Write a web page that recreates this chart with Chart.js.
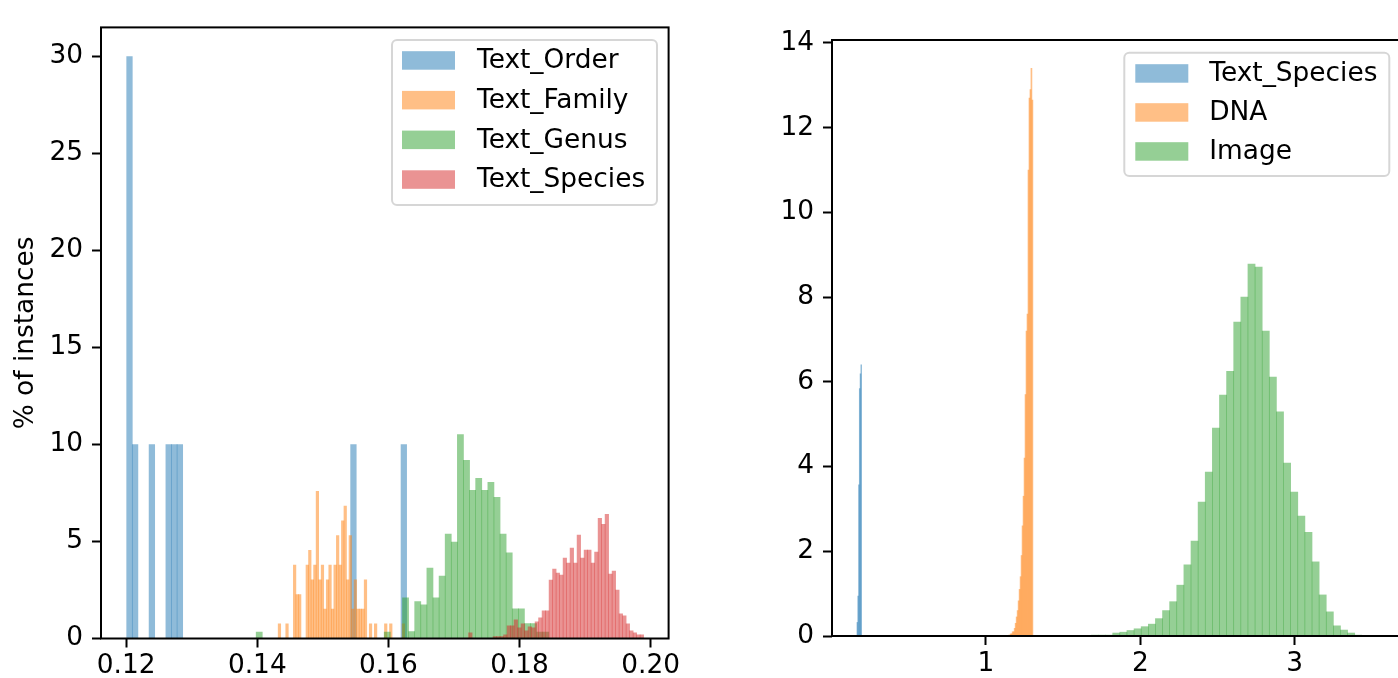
<!DOCTYPE html>
<html>
<head>
<meta charset="utf-8">
<script src="https://cdn.jsdelivr.net/npm/chart.js@4.4.1/dist/chart.umd.min.js"></script>
<style>
  html, body { margin: 0; padding: 0; background: #fff; overflow: hidden; }
  #left { position: absolute; left: 0; top: 0; }
  #right { position: absolute; left: 700px; top: 0; }
</style>
</head>
<body>
<canvas id="left" width="700" height="678"></canvas>
<canvas id="right" width="699" height="678"></canvas>
<script>
// ---- left panel: distances of the text embeddings (50 bins each) ----
var leftLabels = ['Text_Order', 'Text_Family', 'Text_Genus', 'Text_Species']

var orderStart = 0.12008, orderWidth = 0.000854
var orderValues = [30, 10, 0, 0, 10, 0, 0, 10, 10, 10,
  0, 0, 0, 0, 0, 0, 0, 0, 0, 0,
  0, 0, 0, 0, 0, 0, 0, 0, 0, 0,
  0, 0, 0, 0, 0, 0, 0, 0, 0, 0,
  10, 0, 0, 0, 0, 0, 0, 0, 0, 10]

var familyStart = 0.143186, familyWidth = 0.000386
var familyValues = [0.76, 0, 0, 0.76, 0, 0, 3.79, 2.27, 2.27, 0,
  0, 3.79, 4.55, 3.03, 3.79, 7.58, 3.03, 3.79, 1.52, 3.03,
  3.79, 1.52, 3.79, 5.3, 3.79, 6.06, 6.82, 3.03, 5.3, 1.52,
  3.03, 1.52, 1.52, 1.52, 3.03, 0, 0.76, 0, 0.76, 0,
  0, 0, 0.76, 0, 0.76, 0, 0, 0, 0, 0.76]

var genusStart = 0.13983, genusWidth = 0.00093
var genusValues = [0.33, 0, 0, 0, 0, 0, 0, 0, 0, 0,
  0, 0, 0, 0, 0, 0, 0, 0, 0, 0,
  0, 0.33, 0, 0, 2.09, 0.36, 1.9, 1.73, 3.63, 2.09,
  3.22, 5.38, 4.97, 10.51, 9.18, 7.64, 8.25, 7.64, 8.05, 7.28,
  5.38, 4.41, 1.53, 1.53, 0.77, 0.77, 0.33, 0.33, 0, 0]

var speciesStart = 0.17223, speciesWidth = 0.000534
var speciesValues = [0.29, 0, 0, 0, 0, 0, 0, 0.1, 0.1, 0.1,
  0.19, 0.65, 0.65, 0.96, 0.55, 0.75, 0.4, 0.6, 0.55, 0.86,
  1.06, 1.42, 1.42, 3.01, 3.58, 3.37, 3.27, 4.14, 3.89, 4.66,
  3.89, 5.33, 4.14, 4.56, 4.56, 3.89, 4.45, 6.2, 5.89, 6.4,
  3.32, 3.48, 2.5, 1.27, 1.17, 0.75, 0.4, 0.29, 0.19, 0.19]

var leftXTicks = [0.12, 0.14, 0.16, 0.18, 0.20]
var leftXTickLabels = ['0.12', '0.14', '0.16', '0.18', '0.20']
var leftYTicks = [0, 5, 10, 15, 20, 25, 30]

// ---- right panel: text vs DNA vs image ----
var rightLabels = ['Text_Species', 'DNA', 'Image']

var textRStart = 0.1645, textRWidth = 0.00507
var textRValues = [0.32, 0.94, 3.57, 5.84, 6.19, 6.4]

var dnaStart = 1.1445, dnaWidth = 0.00639
var dnaValues = [0.02, 0.02, 0.05, 0.05, 0.1, 0.1, 0.18, 0.3, 0.45, 0.6,
  0.83, 1.1, 1.4, 1.9, 2.6, 3.3, 4.2, 5.7, 7.2, 7.6,
  11.0, 12.7, 12.9, 13.4, 12.65]

var imageStart = 1.6828, imageWidth = 0.0461
var imageValues = [0.02, 0.02, 0.02, 0.07, 0.09, 0.13, 0.17, 0.22, 0.28, 0.41,
  0.6, 0.81, 1.2, 1.68, 2.24, 3.16, 3.87, 4.91, 5.69, 6.25,
  7.41, 8.0, 8.78, 8.71, 7.2, 6.11, 5.29, 4.08, 3.4, 2.83,
  2.45, 1.75, 0.97, 0.57, 0.24, 0.14, 0.07, 0.02]

var rightXTicks = [1, 2, 3]
var rightXTickLabels = ['1', '2', '3']
var rightYTicks = [0, 2, 4, 6, 8, 10, 12, 14]

// matplotlib tab10 at alpha 0.5
var colors = ['rgba(31,119,180,0.5)', 'rgba(255,127,14,0.5)', 'rgba(44,160,44,0.5)', 'rgba(214,39,40,0.5)']

var FONT = 26.4
Chart.defaults.font.family = '"DejaVu Sans"'
Chart.defaults.font.size = FONT
Chart.defaults.color = '#000'

function bins(start, width, values) {
  return values.map(function(v, i) { return {x: start + (i + 0.5) * width, y: v} })
}

function histSet(label, i, start, width, values) {
  return {
    label: label,
    data: bins(start, width, values),
    backgroundColor: colors[i],
    xAxisID: 'h' + i,
    order: 10 - i,   // first series at the bottom, like matplotlib
    barPercentage: 1,
    categoryPercentage: 1,
    grouped: false
  }
}

function hiddenX(min, max) {
  return { type: 'linear', display: false, min: min, max: max, offset: false }
}

function visibleX(min, max, ticks, labels, height) {
  return {
    type: 'linear', min: min, max: max, offset: false,
    afterBuildTicks: function(s) { s.ticks = ticks.map(function(v) { return {value: v} }) },
    afterFit: function(s) { s.height = height },
    ticks: { autoSkip: false, maxRotation: 0, padding: 3, callback: function(v, i) { return labels[i] } },
    grid: { display: true, offset: false, drawOnChartArea: false, drawTicks: true, tickLength: 9, tickColor: '#000', tickWidth: 2 },
    border: { display: false }
  }
}

function visibleY(max, ticks, width, title) {
  return {
    type: 'linear', min: 0, max: max,
    afterBuildTicks: function(s) { s.ticks = ticks.map(function(v) { return {value: v} }) },
    afterFit: function(s) { s.width = width },
    ticks: { autoSkip: false, padding: 9, callback: function(v) { return String(v) } },
    grid: { display: true, drawOnChartArea: false, drawTicks: true, tickLength: 9, tickColor: '#000', tickWidth: 2 },
    border: { display: false },
    title: title ? { display: true, text: title, padding: {top: 10, bottom: 0} } : { display: false }
  }
}

// axes frame on top of the bars
var frame = {
  id: 'frame',
  afterDatasetsDraw: function(chart) {
    var a = chart.chartArea, ctx = chart.ctx
    ctx.save()
    ctx.strokeStyle = '#000'
    ctx.lineWidth = 2
    ctx.strokeRect(a.left, a.top, a.right - a.left, a.bottom - a.top)
    ctx.restore()
  }
}

// matplotlib style legend box in the upper right corner
var boxLegend = {
  id: 'boxLegend',
  afterDraw: function(chart, args, o) {
    var a = chart.chartArea, ctx = chart.ctx
    var x = a.right - o.right - o.width, y = a.top + o.top, r = 5
    ctx.save()
    ctx.globalAlpha = 0.8
    ctx.beginPath()
    ctx.moveTo(x + r, y)
    ctx.arcTo(x + o.width, y, x + o.width, y + o.height, r)
    ctx.arcTo(x + o.width, y + o.height, x, y + o.height, r)
    ctx.arcTo(x, y + o.height, x, y, r)
    ctx.arcTo(x, y, x + o.width, y, r)
    ctx.closePath()
    ctx.fillStyle = '#fff'
    ctx.fill()
    ctx.strokeStyle = '#cccccc'
    ctx.lineWidth = 2
    ctx.stroke()
    ctx.globalAlpha = 1
    ctx.font = FONT + 'px "DejaVu Sans"'
    ctx.textBaseline = 'middle'
    chart.data.datasets.forEach(function(ds, i) {
      var cy = y + o.first + i * o.row
      ctx.fillStyle = ds.backgroundColor
      ctx.fillRect(x + o.patchLeft, cy - 9.2, 53, 18.5)
      ctx.fillStyle = '#000'
      ctx.fillText(ds.label, x + o.textLeft, cy + 1)
    })
    ctx.restore()
  }
}

var leftMin = 0.11616, leftMax = 0.20274
new Chart(document.getElementById('left'), {
  type: 'bar',
  data: {
    datasets: [
      histSet(leftLabels[0], 0, orderStart, orderWidth, orderValues),
      histSet(leftLabels[1], 1, familyStart, familyWidth, familyValues),
      histSet(leftLabels[2], 2, genusStart, genusWidth, genusValues),
      histSet(leftLabels[3], 3, speciesStart, speciesWidth, speciesValues)
    ]
  },
  options: {
    responsive: false,
    animation: false,
    layout: { padding: { left: 0, top: 27.4, right: 31.4, bottom: 0 } },
    scales: {
      x: visibleX(leftMin, leftMax, leftXTicks, leftXTickLabels, 39.5),
      h0: hiddenX(leftMin, leftMax),
      h1: hiddenX(leftMin, leftMax),
      h2: hiddenX(leftMin, leftMax),
      h3: hiddenX(leftMin, leftMax),
      y: visibleY(31.5, leftYTicks, 101, '% of instances')
    },
    plugins: {
      legend: { display: false },
      tooltip: { enabled: false },
      boxLegend: { right: 11.6, top: 12.6, width: 265, height: 165, first: 20.4, row: 39.7, patchLeft: 10, textLeft: 85 }
    }
  },
  plugins: [frame, boxLegend]
})

var rightMin = 0.003, rightMax = 3.6753
new Chart(document.getElementById('right'), {
  type: 'bar',
  data: {
    datasets: [
      histSet(rightLabels[0], 0, textRStart, textRWidth, textRValues),
      histSet(rightLabels[1], 1, dnaStart, dnaWidth, dnaValues),
      histSet(rightLabels[2], 2, imageStart, imageWidth, imageValues)
    ]
  },
  options: {
    responsive: false,
    animation: false,
    layout: { padding: { left: 0, top: 40, right: 0, bottom: 0 } },
    scales: {
      x: visibleX(rightMin, rightMax, rightXTicks, rightXTickLabels, 42),
      h0: hiddenX(rightMin, rightMax),
      h1: hiddenX(rightMin, rightMax),
      h2: hiddenX(rightMin, rightMax),
      y: visibleY(14.07, rightYTicks, 132, null)
    },
    plugins: {
      legend: { display: false },
      tooltip: { enabled: false },
      boxLegend: { right: 9.7, top: 12.7, width: 265, height: 123.3, first: 20.7, row: 39, patchLeft: 11, textLeft: 85 }
    }
  },
  plugins: [frame, boxLegend]
})
</script>
</body>
</html>
